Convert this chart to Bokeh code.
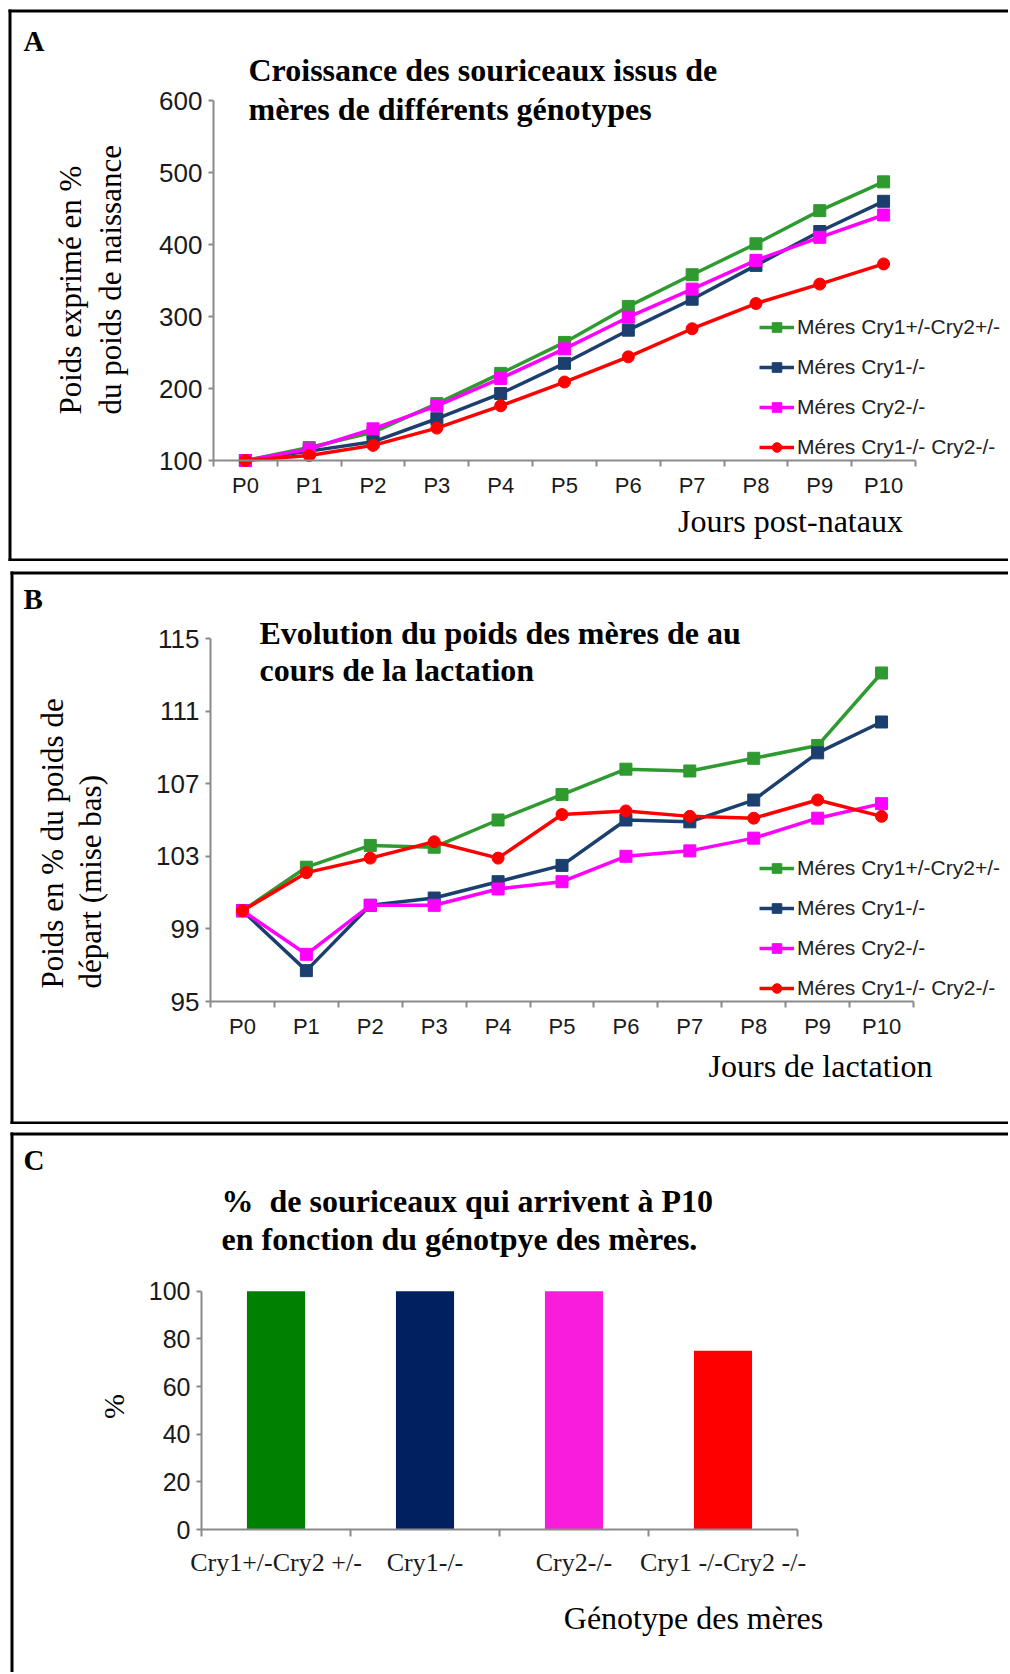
from math import pi
from bokeh.plotting import figure
from bokeh.models import Label, Legend, LegendItem, FixedTicker, Range1d
from bokeh.layouts import column
from bokeh.embed import file_html
from bokeh.resources import INLINE

# ---------------- data ----------------
days = ["P0", "P1", "P2", "P3", "P4", "P5", "P6", "P7", "P8", "P9", "P10"]
series_names = ["Méres Cry1+/-Cry2+/-", "Méres Cry1-/-", "Méres Cry2-/-", "Méres Cry1-/- Cry2-/-"]

# Panel A : pup growth (% of birth weight)
a_het = [100, 118, 139, 179, 221, 264, 314, 358, 401, 447, 487]
a_cry1 = [100, 113, 126, 158, 193, 235, 281, 324, 371, 418, 460]
a_cry2 = [100, 116, 144, 176, 214, 255, 299, 338, 378, 410, 441]
a_dko = [100, 107, 121, 145, 176, 209, 244, 283, 318, 345, 373]
a_yticks = [100, 200, 300, 400, 500, 600]

# Panel B : mother weight (% of starting weight)
b_het = [100, 102.4, 103.6, 103.5, 105.0, 106.4, 107.8, 107.7, 108.4, 109.1, 113.1]
b_cry1 = [100, 96.7, 100.3, 100.7, 101.6, 102.5, 105.0, 104.9, 106.1, 108.7, 110.4]
b_cry2 = [100, 97.6, 100.3, 100.3, 101.2, 101.6, 103.0, 103.3, 104.0, 105.1, 105.9]
b_dko = [100, 102.1, 102.9, 103.8, 102.9, 105.3, 105.5, 105.2, 105.1, 106.1, 105.2]
b_yticks = [95, 99, 103, 107, 111, 115]

# Panel C : % pups reaching P10
genotypes = ["Cry1+/-Cry2 +/-", "Cry1-/-", "Cry2-/-", "Cry1 -/-Cry2 -/-"]
survival = [100, 100, 100, 75]
c_yticks = [0, 20, 40, 60, 80, 100]

# ---------------- styles ----------------
line_colors = ["#2f9a2f", "#1b3f6e", "#ff00ff", "#ff0000"]
markers = ["square", "square", "square", "circle"]
bar_colors = ["#008000", "#002060", "#f81cdc", "#ff0000"]
SERIF = "Liberation Serif"
SANS = "Liberation Sans"
AXIS_GRAY = "#8a8a8a"
FIG_W = 1008
PAGE_X0 = 0


def make_fig(fig_top, fig_h, px0, px1, d0, d1, py_bot, py_top, v0, v1):
    """Figure whose frame covers the whole canvas; the chart area is
    px0..px1 / py_top..py_bot (page pixels) mapped to d0..d1 / v0..v1."""
    sx = (px1 - px0) / (d1 - d0)
    sy = (py_bot - py_top) / (v1 - v0)
    X = lambda px: d0 + (px - px0) / sx
    Y = lambda py: v0 + (py_bot - py) / sy
    p = figure(width=FIG_W, height=fig_h, min_border=0,
               x_range=Range1d(X(PAGE_X0), X(PAGE_X0 + FIG_W)),
               y_range=Range1d(Y(fig_top + fig_h), Y(fig_top)),
               output_backend="svg", toolbar_location=None, tools="")
    p.outline_line_color = None
    p.xgrid.grid_line_color = None
    p.ygrid.grid_line_color = None
    p.background_fill_color = "white"
    p.border_fill_color = "white"
    p.xaxis.fixed_location = v0
    p.xaxis.bounds = (d0, d1)
    p.yaxis.fixed_location = d0
    p.yaxis.bounds = (v0, v1)
    for ax in (p.xaxis[0], p.yaxis[0]):
        ax.axis_line_color = AXIS_GRAY
        ax.axis_line_width = 2
        ax.major_tick_line_color = AXIS_GRAY
        ax.major_tick_line_width = 2
        ax.minor_tick_line_color = AXIS_GRAY
        ax.minor_tick_line_width = 2
        ax.major_label_text_color = "#1a1a1a"
    p._X, p._Y = X, Y
    p._fig = (fig_top, fig_h)
    return p


def borders(p, segs):
    X, Y = p._X, p._Y
    p.segment(x0=[X(s[0]) for s in segs], y0=[Y(s[1]) for s in segs],
              x1=[X(s[2]) for s in segs], y1=[Y(s[3]) for s in segs],
              line_color="black", line_width=3)


def txt(p, s, px, py, size, font=SERIF, style="normal", align="left", angle=0.0, color="black"):
    p.add_layout(Label(x=p._X(px), y=p._Y(py), text=s, text_font=font,
                       text_font_size=f"{size}px", text_font_style=style,
                       text_align=align, text_baseline="middle",
                       angle=angle, text_color=color))


def line_panel(p, vals_list, yticks, legend_left, legend_bottom):
    idx = list(range(len(days)))
    p.xaxis.ticker = FixedTicker(ticks=idx, minor_ticks=[i - 0.5 for i in range(len(days) + 1)])
    p.xaxis.major_label_overrides = {i: d for i, d in zip(idx, days)}
    p.xaxis.major_tick_line_color = None
    p.xaxis.minor_tick_out = 6
    p.xaxis.minor_tick_in = 0
    p.xaxis.major_label_text_font = SANS
    p.xaxis.major_label_text_font_size = "22px"
    p.xaxis.major_label_standoff = 6
    p.yaxis.ticker = FixedTicker(ticks=yticks)
    p.yaxis.major_tick_out = 5
    p.yaxis.major_tick_in = 0
    p.yaxis.minor_tick_line_color = None
    p.yaxis.major_label_text_font = SANS
    p.yaxis.major_label_text_font_size = "26px"
    p.yaxis.major_label_standoff = 6
    items = []
    for name, vals, col, mk in zip(series_names, vals_list, line_colors, markers):
        r1 = p.line(x=idx, y=vals, line_color=col, line_width=3.5)
        r2 = p.scatter(x=idx, y=vals, marker=mk, size=12, fill_color=col, line_color=col)
        items.append(LegendItem(label=name, renderers=[r1, r2]))
    fig_top, fig_h = p._fig
    leg = Legend(items=items,
                 location=(legend_left - PAGE_X0, fig_top + fig_h - legend_bottom),
                 spacing=16, padding=0, margin=0,
                 glyph_width=35, glyph_height=24, label_height=24, label_standoff=3,
                 label_text_font=SANS, label_text_font_size="21px", label_text_color="#222222",
                 border_line_color=None, background_fill_alpha=0)
    p.add_layout(leg)


# ---------------- Panel A ----------------
pA = make_fig(0, 561, 213, 915, -0.5, len(days) - 0.5, 460, 100, a_yticks[0], a_yticks[-1])
borders(pA, [(8, 10.5, 1010, 10.5), (9.5, 9, 9.5, 561), (8, 559.5, 1010, 559.5)])
line_panel(pA, [a_het, a_cry1, a_cry2, a_dko], a_yticks, 759, 459)
txt(pA, "A", 23, 40, 29, style="bold")
txt(pA, "Croissance des souriceaux issus de", 248, 69, 32, style="bold")
txt(pA, "mères de différents génotypes", 248, 108, 32, style="bold")
txt(pA, "Poids exprimé en %", 70, 414, 31, angle=pi / 2)
txt(pA, "du poids de naissance", 110, 414, 31, angle=pi / 2)
txt(pA, "Jours post-nataux", 790, 520, 32, align="center")

# ---------------- Panel B ----------------
pB = make_fig(561, 563, 210, 913, -0.5, len(days) - 0.5, 1001, 638, b_yticks[0], b_yticks[-1])
borders(pB, [(10, 572.5, 1010, 572.5), (11.5, 571, 11.5, 1124), (10, 1122.5, 1010, 1122.5)])
line_panel(pB, [b_het, b_cry1, b_cry2, b_dko], b_yticks, 759, 1000)
txt(pB, "B", 23, 598, 29, style="bold")
txt(pB, "Evolution du poids des mères de au", 259, 632, 32, style="bold")
txt(pB, "cours de la lactation", 259, 669, 32, style="bold")
txt(pB, "Poids en % du poids de", 52, 988, 31, angle=pi / 2)
txt(pB, "départ (mise bas)", 90, 988, 31, angle=pi / 2)
txt(pB, "Jours de lactation", 820, 1065, 32, align="center")

# ---------------- Panel C ----------------
pC = make_fig(1124, 548, 201, 797, -0.5, len(genotypes) - 0.5, 1529, 1290.7, c_yticks[0], c_yticks[-1])
borders(pC, [(10, 1133.5, 1010, 1133.5), (11.5, 1132, 11.5, 1672)])
cidx = list(range(len(genotypes)))
pC.vbar(x=cidx, top=survival, width=0.39, fill_color=bar_colors, line_color=None)
pC.xaxis.ticker = FixedTicker(ticks=cidx, minor_ticks=[i - 0.5 for i in range(len(genotypes) + 1)])
pC.xaxis.major_label_overrides = {i: g for i, g in zip(cidx, genotypes)}
pC.xaxis.major_tick_line_color = None
pC.xaxis.minor_tick_out = 7
pC.xaxis.minor_tick_in = 0
pC.xaxis.major_label_text_font = SERIF
pC.xaxis.major_label_text_font_size = "26px"
pC.xaxis.major_label_standoff = 11
pC.yaxis.ticker = FixedTicker(ticks=c_yticks)
pC.yaxis.major_tick_out = 5
pC.yaxis.major_tick_in = 0
pC.yaxis.minor_tick_line_color = None
pC.yaxis.major_label_text_font = SANS
pC.yaxis.major_label_text_font_size = "25px"
pC.yaxis.major_label_standoff = 6
txt(pC, "C", 23, 1159, 29, style="bold")
txt(pC, "%\u00a0 de souriceaux qui arrivent à P10", 221, 1200, 32, style="bold")
txt(pC, "en fonction du génotpye des mères.", 221, 1238, 32, style="bold")
txt(pC, "%", 113, 1406, 30, align="center", angle=pi / 2)
txt(pC, "Génotype des mères", 693, 1617, 32, align="center")

layout = column(pA, pB, pC, spacing=0)
open("out.html", "w").write(file_html(layout, INLINE))
